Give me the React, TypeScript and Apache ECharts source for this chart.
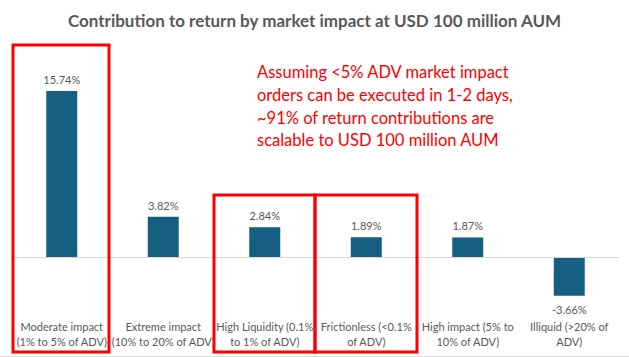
import React, { useEffect, useRef } from "react";
import * as echarts from "echarts";

const TITLE = "Contribution to return by market impact at USD 100 million AUM";
const CATEGORIES = [
  "Moderate impact\n(1% to 5% of ADV)",
  "Extreme impact\n(10% to 20% of ADV)",
  "High Liquidity (0.1%\nto 1% of ADV)",
  "Frictionless (<0.1%\nof ADV)",
  "High impact (5% to\n10% of ADV)",
  "Illiquid (>20% of\nADV)",
];
const VALUES = [15.74, 3.82, 2.84, 1.89, 1.87, -3.66];
const NOTE = [
  "Assuming <5% ADV market impact",
  "orders can be executed in 1-2 days,",
  "~91% of return contributions are",
  "scalable to USD 100 million AUM",
];

const FONT = "Lato, 'Open Sans', sans-serif";
const GRAY = "#595959";
const RED = "#FF0000";

export default function App() {
  const ref = useRef<HTMLDivElement>(null);
  useEffect(() => {
    if (!ref.current) return;
    const chart = echarts.init(ref.current, undefined, { renderer: "svg" });
    const box = (x: number, y: number, w: number, h: number) => ({
      type: "rect",
      shape: { x, y, width: w, height: h },
      style: { fill: "none", stroke: RED, lineWidth: 3 },
      z: 100,
    });
    chart.setOption({
      animation: false,
      backgroundColor: "#ffffff",
      title: {
        text: TITLE,
        left: "center",
        top: 7,
        textStyle: { fontFamily: FONT, fontSize: 17, fontWeight: "bold", color: GRAY },
      },
      grid: { left: 11, right: 9, top: 46, height: 264 },
      xAxis: {
        type: "category",
        data: CATEGORIES,
        axisLine: { show: false, onZero: false },
        axisTick: { show: false },
        axisLabel: {
          interval: 0,
          margin: 9,
          fontFamily: FONT,
          fontSize: 11,
          lineHeight: 15,
          color: GRAY,
        },
      },
      yAxis: {
        type: "value",
        min: -5,
        max: 20,
        show: false,
      },
      series: [
        {
          type: "bar",
          barWidth: 31,
          data: VALUES.map((v) => ({
            value: v,
            label: { position: v < 0 ? "bottom" : "top", distance: v < 0 ? 8 : 6 },
          })),
          itemStyle: { color: "#156082" },
          label: {
            show: true,
            distance: 6,
            fontFamily: FONT,
            fontSize: 11,
            color: GRAY,
            formatter: (p: any) => p.value.toFixed(2) + "%",
          },
          markLine: {
            silent: true,
            symbol: "none",
            label: { show: false },
            lineStyle: { color: "#d9d9d9", width: 1, type: "solid" },
            data: [{ yAxis: 0 }],
          },
        },
      ],
      graphic: [
        box(13, 45, 96, 307),
        box(214, 195, 101, 157),
        box(315, 195, 102, 157),
        {
          type: "line",
          shape: { x1: 0, y1: 356.5, x2: 629, y2: 356.5 },
          style: { stroke: "#d9d9d9", lineWidth: 1 },
        },
        {
          type: "text",
          left: 257,
          top: 61,
          z: 100,
          style: {
            text: NOTE.join("\n"),
            fill: RED,
            fontFamily: FONT,
            fontSize: 16.5,
            lineHeight: 22.7,
          },
        },
      ],
    });
    return () => chart.dispose();
  }, []);
  return (
    <div
      ref={ref}
      style={{ position: "absolute", left: 0, top: 0, width: 629, height: 357 }}
    />
  );
}
